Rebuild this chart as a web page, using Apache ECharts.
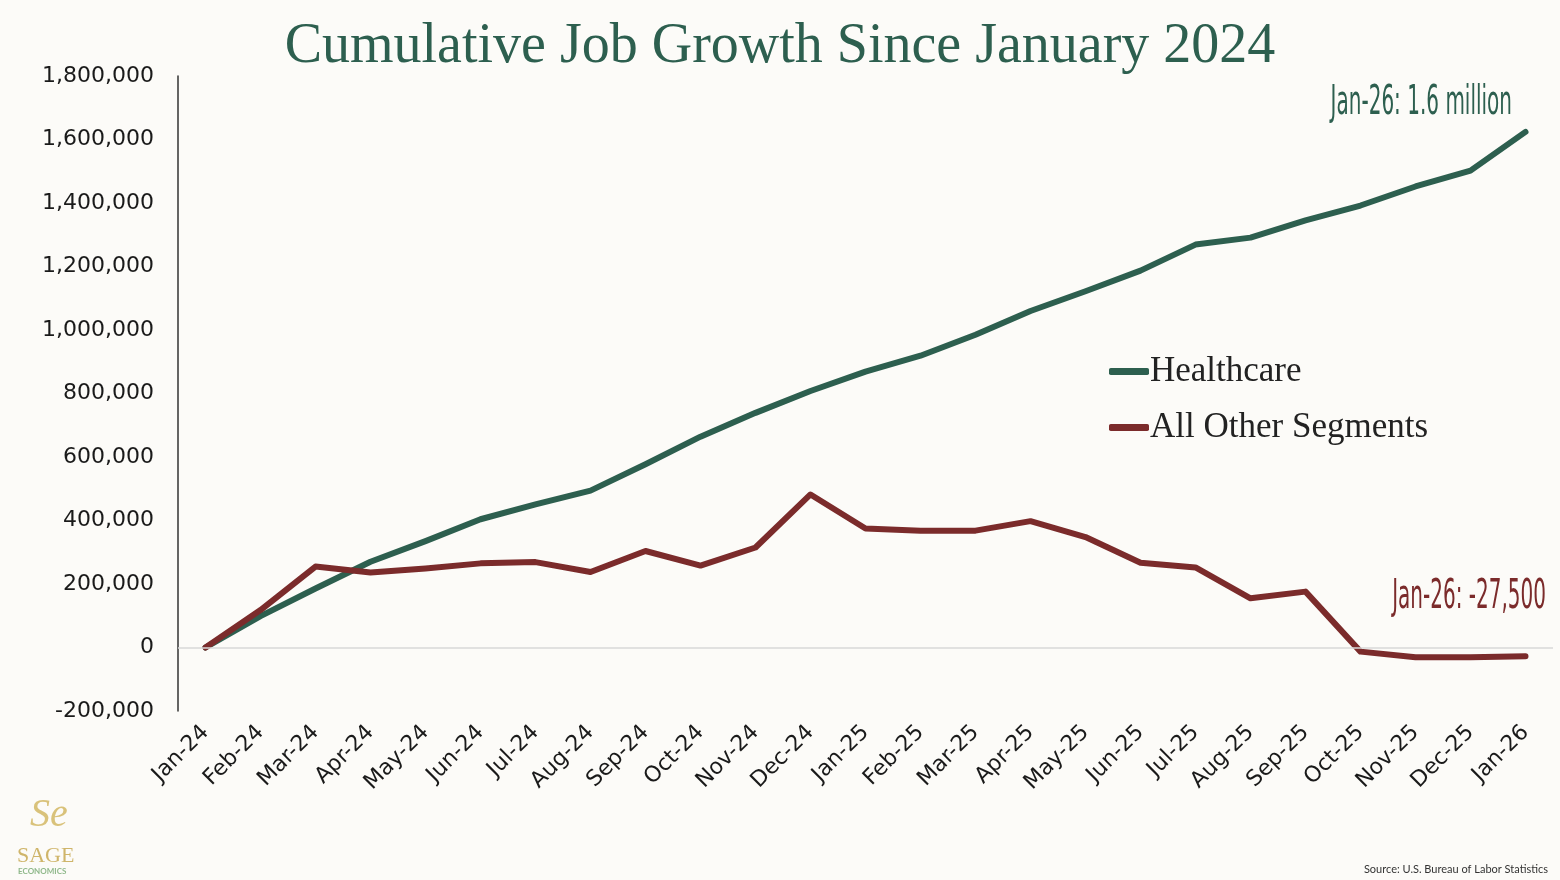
<!DOCTYPE html>
<html>
<head>
<meta charset="utf-8">
<script src="https://cdn.jsdelivr.net/npm/echarts@6/dist/echarts.min.js"></script>
<style>
html,body{margin:0;padding:0;background:#fcfbf8;}
#chart{width:1560px;height:880px;}
</style>
</head>
<body>
<div id="chart"></div>
<script>
const categories = ["Jan-24","Feb-24","Mar-24","Apr-24","May-24","Jun-24","Jul-24","Aug-24","Sep-24","Oct-24","Nov-24","Dec-24",
  "Jan-25","Feb-25","Mar-25","Apr-25","May-25","Jun-25","Jul-25","Aug-25","Sep-25","Oct-25","Nov-25","Dec-25","Jan-26"];
const healthcare = [0, 99000, 186000, 270000, 335000, 404000, 451000, 494000, 577000, 664000, 739000, 808000,
  869000, 919000, 985000, 1060000, 1122000, 1187000, 1269000, 1291000, 1345000, 1392000, 1452000, 1502000, 1624000];
const otherSegments = [0, 118000, 255000, 236000, 249000, 265000, 269000, 238000, 304000, 258000, 315000, 482000,
  375000, 368000, 368000, 398000, 348000, 267000, 252000, 155000, 176000, -13000, -31000, -31000, -27500];
const yTicks = { min: -200000, max: 1800000, interval: 200000 };
const titleText = "Cumulative Job Growth Since January 2024";
const annoHealth = "Jan-26: 1.6 million";
const annoOther = "Jan-26: -27,500";
const sourceText = "Source: U.S. Bureau of Labor Statistics";

const GREEN = "#2d5f4f", RED = "#7b2b2b";
const chart = echarts.init(document.getElementById('chart'));
chart.setOption({
  backgroundColor: "#fcfbf8",
  animation: false,
  title: {
    text: titleText, left: 'center', top: 14,
    textStyle: { fontFamily: "Liberation Serif", fontWeight: 'normal', fontSize: 56, color: GREEN }
  },
  legend: {
    orient: 'vertical', left: 1104, top: 349, itemGap: 21,
    icon: 'roundRect', itemWidth: 40, itemHeight: 7,
    textStyle: { fontFamily: "Liberation Serif", fontSize: 35, color: "#222", padding: [0,0,0,-4] },
    data: ["Healthcare", "All Other Segments"]
  },
  grid: { left: 178, right: 7, top: 76, bottom: 169, containLabel: false },
  xAxis: {
    type: 'category', data: categories, boundaryGap: true,
    axisLine: { show: false }, axisTick: { show: false },
    axisLabel: { rotate: 45, fontFamily: "DejaVu Sans", fontSize: 22, color: "#1a1a1a", margin: 18, interval: 0 }
  },
  yAxis: {
    type: 'value', min: yTicks.min, max: yTicks.max, interval: yTicks.interval,
    axisLine: { show: true, lineStyle: { color: "#333", width: 1.5 } },
    axisTick: { show: false }, splitLine: { show: false },
    axisLabel: { fontFamily: "DejaVu Sans", fontSize: 22, color: "#1a1a1a", margin: 24,
      formatter: v => v.toLocaleString('en-US') }
  },
  series: [
    { name: "Healthcare", type: 'line', data: healthcare, showSymbol: false, z: 3,
      lineStyle: { color: GREEN, width: 6, cap: 'round', join: 'round' }, itemStyle: { color: GREEN },
      markLine: { silent: true, symbol: 'none', label: { show: false },
        lineStyle: { color: "#d8d8d8", width: 1.5, type: 'solid' }, data: [{ yAxis: 0 }] } },
    { name: "All Other Segments", type: 'line', data: otherSegments, showSymbol: false, z: 4,
      lineStyle: { color: RED, width: 6, cap: 'round', join: 'round' }, itemStyle: { color: RED } }
  ],
  graphic: [
    { type: 'text', x: 1512, y: 84, scaleX: 0.5, style: { text: annoHealth, fill: GREEN, align: 'right',
      font: "40px 'DejaVu Sans', sans-serif" } },
    { type: 'text', x: 1546, y: 578, scaleX: 0.5, style: { text: annoOther, fill: RED, align: 'right',
      font: "40px 'DejaVu Sans', sans-serif" } },
    { type: 'text', right: 12, top: 864, style: { text: sourceText, fill: "#333",
      font: "11px Lato, sans-serif" } },
    { type: 'text', left: 17, top: 845, style: { text: "SAGE", fill: "#cfb56a",
      font: "22px 'Liberation Serif', serif" } },
    { type: 'text', left: 18, top: 867, style: { text: "ECONOMICS", fill: "#8fb88a",
      font: "bold 8px Lato, sans-serif" } },
    { type: 'text', left: 30, top: 795, style: { text: "Se", fill: "#d9c27a",
      font: "italic 40px 'Liberation Serif', serif" } }
  ]
});
</script>
</body>
</html>
